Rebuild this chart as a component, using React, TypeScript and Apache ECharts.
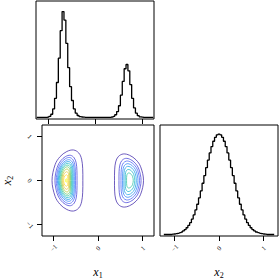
import React, { useEffect, useRef } from 'react';
import * as echarts from 'echarts';

// axis ranges and ticks
const X1_RANGE = [-1.255, 1.255];
const X2_RANGE_Y = [-1.255, 1.255];
const X2_RANGE_X = [-1.326, 1.326];
const TICKS = [-1, 0, 1];

// histogram bins
const BIN_START = -1.24;
const BIN_WIDTH = 0.04;

// marginal histogram of x1 (63 bins)
const x1Hist = [
  0, 0, 0, 0, 0, 0,
  0.3, 1, 3, 8, 18, 33, 56, 82, 100, 92, 70, 47, 29, 16, 8, 4, 1.8, 0.8, 0.4, 0.2,
  0.1, 0.1, 0.1, 0.1, 0.1, 0.1, 0.1, 0.1, 0.1, 0.1, 0.1, 0.1, 0.1, 0.1,
  0.4, 1, 2.5, 5.5, 11, 21, 34, 46, 50, 44, 31, 18, 9, 4, 1.6, 0.6, 0.2,
  0, 0, 0, 0, 0, 0,
];

// marginal histogram of x2 (63 bins)
const x2Hist = [
  0, 0, 0, 0, 0,
  0.3, 0.5, 0.8, 1.2, 1.8, 2.5, 3.6, 4.9, 6.7, 9.0, 11.8, 15.3, 19.5, 24.5, 30.1,
  36.5, 43.4, 51.0, 58.7, 66.5, 74.1, 81.2, 87.5, 92.8, 96.7, 99.2, 100, 99.2,
  96.7, 92.8, 87.5, 81.2, 74.1, 66.5, 58.7, 51.0, 43.4, 36.5, 30.1, 24.5, 19.5,
  15.3, 11.8, 9.0, 6.7, 4.9, 3.6, 2.5, 1.8, 1.2, 0.8, 0.5, 0.3,
  0, 0, 0, 0, 0,
];

// contour extents: [x on flat (inner) side, half height in x2, x on round (outer) side]
const leftContours = [
  [-0.34, 0.69, -1.03],
  [-0.47, 0.57, -0.965],
  [-0.505, 0.52, -0.935],
  [-0.53, 0.47, -0.91],
  [-0.555, 0.43, -0.89],
  [-0.575, 0.39, -0.87],
  [-0.595, 0.35, -0.85],
  [-0.615, 0.31, -0.83],
  [-0.635, 0.26, -0.81],
  [-0.655, 0.2, -0.79],
  [-0.675, 0.13, -0.77],
  [-0.7, 0.04, -0.73],
];
const rightContours = [
  [0.37, 0.6, 1.02],
  [0.47, 0.5, 0.965],
  [0.515, 0.44, 0.93],
  [0.55, 0.38, 0.895],
  [0.58, 0.32, 0.86],
  [0.61, 0.25, 0.825],
  [0.64, 0.17, 0.79],
];

// normalised outline of one contour: u from flat side (0) to round side (1), v in half heights
const contourShape = [
  [0, 0], [0.005, 0.4], [0.04, 0.7], [0.13, 0.9], [0.3, 1.0], [0.52, 0.95],
  [0.74, 0.78], [0.9, 0.52], [1.0, 0], [0.9, -0.52], [0.74, -0.78], [0.52, -0.95],
  [0.3, -1.0], [0.13, -0.9], [0.04, -0.7], [0.005, -0.4],
];

const levelColors = [
  '#3e26a8', '#4442d8', '#4160f5', '#2f82f7', '#1e9ee5', '#19b5cb',
  '#30c4a2', '#6bc86d', '#b2c739', '#e8c438', '#fcd82c', '#f9fb15',
];

const SERIF = 'Liberation Serif';
const fmt = (v: number) => (v < 0 ? '\u2212' + -v : String(v));

const nameRich = {
  a: { fontFamily: SERIF, fontStyle: 'italic', fontSize: 12, color: '#000', lineHeight: 14 },
  b: { fontFamily: SERIF, fontSize: 8, color: '#000', lineHeight: 6, verticalAlign: 'bottom' },
};

export default function App() {
  const ref = useRef<HTMLDivElement>(null);
  useEffect(() => {
    if (!ref.current) return;
    const chart = echarts.init(ref.current, null, { renderer: 'svg' });
    const binCenters = x1Hist.map((_, i) => +(BIN_START + BIN_WIDTH * i).toFixed(4));
    const contours: { c: number[]; k: number }[] = [];
    leftContours.forEach((c, k) => contours.push({ c, k }));
    rightContours.forEach((c, k) => contours.push({ c, k }));

    const gridBase = { show: true, borderColor: '#000', borderWidth: 1, backgroundColor: 'transparent' };
    const tickOn = (labels: boolean, rotate: number) => ({
      axisLine: { show: false, onZero: false },
      axisTick: { show: true, inside: false, length: 5, customValues: TICKS, lineStyle: { color: '#000', width: 1 } },
      axisLabel: {
        show: labels,
        customValues: TICKS,
        formatter: fmt,
        rotate,
        align: 'center',
        verticalAlign: 'middle',
        margin: 12,
        fontFamily: SERIF,
        fontSize: 6.5,
        color: '#000',
      },
      splitLine: { show: false },
    });
    const hidden = {
      axisLine: { show: false, onZero: false },
      axisTick: { show: false },
      axisLabel: { show: false },
      splitLine: { show: false },
    };

    chart.setOption({
      animation: false,
      grid: [
        { ...gridBase, left: 36, top: 1, width: 118, height: 118 },
        { ...gridBase, left: 36, top: 125, width: 118, height: 118 },
        { ...gridBase, left: 160, top: 125, width: 118, height: 118 },
      ],
      xAxis: [
        { type: 'value', gridIndex: 0, position: 'bottom', min: X1_RANGE[0], max: X1_RANGE[1], ...tickOn(false, 0) },
        {
          type: 'value', gridIndex: 1, position: 'bottom', min: X1_RANGE[0], max: X1_RANGE[1], ...tickOn(true, 45),
          name: '{a|x}{b|1}', nameLocation: 'middle', nameGap: 29, nameTextStyle: { rich: nameRich },
        },
        {
          type: 'value', gridIndex: 2, position: 'bottom', min: X2_RANGE_X[0], max: X2_RANGE_X[1], ...tickOn(true, 45),
          name: '{a|x}{b|2}', nameLocation: 'middle', nameGap: 29, nameTextStyle: { rich: nameRich },
        },
      ],
      yAxis: [
        { type: 'value', gridIndex: 0, position: 'left', min: -1.5, max: 110, ...hidden },
        {
          type: 'value', gridIndex: 1, position: 'left', min: X2_RANGE_Y[0], max: X2_RANGE_Y[1], ...tickOn(true, -45),
          name: '{a|x}{b|2}', nameLocation: 'middle', nameGap: 28, nameRotate: 90, nameTextStyle: { rich: nameRich },
        },
        { type: 'value', gridIndex: 2, position: 'left', min: -1.5, max: 109, ...hidden },
      ],
      series: [
        {
          type: 'line', xAxisIndex: 0, yAxisIndex: 0, step: 'middle', symbol: 'none',
          lineStyle: { color: '#000', width: 1.3 },
          data: x1Hist.map((v, i) => [binCenters[i], v]),
        },
        {
          type: 'line', xAxisIndex: 2, yAxisIndex: 2, step: 'middle', symbol: 'none',
          lineStyle: { color: '#000', width: 1.3 },
          data: x2Hist.map((v, i) => [binCenters[i], v]),
        },
        {
          type: 'custom', xAxisIndex: 1, yAxisIndex: 1,
          data: contours.map((d) => [d.c[0], 0, d.k]),
          renderItem: (params: any, api: any) => {
            const d = contours[params.dataIndex];
            const [xf, h, xr] = d.c;
            const pts = contourShape.map(([u, v]) => api.coord([xf + u * (xr - xf), v * h]));
            return {
              type: 'polygon',
              shape: { points: pts, smooth: 0.35 },
              style: { fill: 'none', stroke: levelColors[d.k], lineWidth: 0.75 },
            };
          },
        },
      ],
    });
    return () => chart.dispose();
  }, []);
  return <div ref={ref} style={{ position: 'absolute', left: 0, top: 0, width: 280, height: 280 }} />;
}
